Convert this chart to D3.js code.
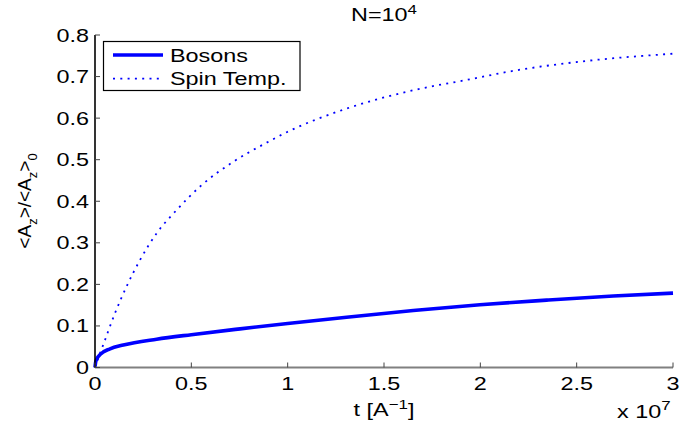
<!DOCTYPE html>
<html><head><meta charset="utf-8">
<script src="https://cdn.jsdelivr.net/npm/d3@7"></script>
<style>body{margin:0;background:#fff}svg{display:block}text{font-family:"Liberation Sans",Arial,sans-serif;fill:#000}</style>
</head><body>
<script>
// t in units of 1e7 A^-1
const bosonsT = [0,0.003,0.01,0.026,0.078,0.147,0.32,0.5,0.753,1.0,1.306,1.652,1.998,2.344,2.69,3.0];
const bosonsV = [0,0.012,0.021,0.031,0.045,0.054,0.068,0.079,0.093,0.106,0.121,0.137,0.151,0.162,0.172,0.179];
const spinT = [0,0.02,0.043,0.104,0.164,0.234,0.32,0.424,0.554,0.718,0.891,0.995,1.306,1.652,1.964,2.137,2.5,3.0];
const spinV = [0,0.027,0.055,0.131,0.195,0.259,0.323,0.379,0.439,0.495,0.541,0.566,0.623,0.667,0.695,0.711,0.735,0.755];
const xTicks = [0,0.5,1,1.5,2,2.5,3];
const xTickLabels = ["0","0.5","1","1.5","2","2.5","3"];
const yTicks = [0,0.1,0.2,0.3,0.4,0.5,0.6,0.7,0.8];
const yTickLabels = ["0","0.1","0.2","0.3","0.4","0.5","0.6","0.7","0.8"];
const seriesNames = ["Bosons","Spin Temp."];

const W=680,H=426, FS=18, SX=1.3;
const svg=d3.select("body").append("svg").attr("width",W).attr("height",H);
const x=d3.scaleLinear().domain([0,3]).range([95,673]);
const y=d3.scaleLinear().domain([0,0.8]).range([367.5,35]);

function txt(g,px,py,anchor,size){
  return g.append("text").attr("transform",`translate(${px},${py}) scale(${SX},1)`)
    .attr("text-anchor",anchor).attr("font-size",size||FS);
}

// curves
const line=d3.line().x(d=>x(d[0])).y(d=>y(d[1])).curve(d3.curveMonotoneX);
svg.append("path").datum(spinT.map((t,i)=>[t,spinV[i]]))
  .attr("d",line).attr("fill","none").attr("stroke","#0000ff").attr("stroke-width",1.8)
  .attr("stroke-dasharray","2,5.3");
svg.append("path").datum(bosonsT.map((t,i)=>[t,bosonsV[i]]))
  .attr("d",line).attr("fill","none").attr("stroke","#0000ff").attr("stroke-width",3.6);

// axes
svg.append("line").attr("x1",x(0)).attr("x2",x(3)).attr("y1",y(0)).attr("y2",y(0))
  .attr("stroke","#808080").attr("stroke-width",2);
svg.append("line").attr("x1",x(0)).attr("x2",x(0)).attr("y1",y(0)).attr("y2",y(0.8))
  .attr("stroke","#000").attr("stroke-width",1.6);
xTicks.forEach((t,i)=>{
  svg.append("line").attr("x1",x(t)).attr("x2",x(t)).attr("y1",y(0)).attr("y2",y(0)-5)
    .attr("stroke","#444").attr("stroke-width",1);
  txt(svg,x(t),389.5,"middle").text(xTickLabels[i]);
});
yTicks.forEach((v,i)=>{
  svg.append("line").attr("x1",x(0)).attr("x2",x(0)+5).attr("y1",y(v)).attr("y2",y(v))
    .attr("stroke","#444").attr("stroke-width",1);
  txt(svg,89,y(v)+6.5,"end").text(yTickLabels[i]);
});

// title
const tt=txt(svg,384,20.5,"middle");
tt.append("tspan").text("N=10");
tt.append("tspan").attr("font-size",13).attr("dy",-7).text("4");

// x label
const xl=txt(svg,384,415.5,"middle");
xl.append("tspan").text("t [A");
xl.append("tspan").attr("font-size",13).attr("dy",-7).text("\u22121");
xl.append("tspan").attr("dy",7).text("]");

// exponent
const ex=txt(svg,617,418,"start");
ex.append("tspan").text("x 10");
ex.append("tspan").attr("font-size",13).attr("dy",-8).text("7");

// y label
const yl=svg.append("text").attr("transform",`translate(30.5,201) rotate(-90)`)
  .attr("text-anchor","middle").attr("font-size",19);
yl.append("tspan").text("<A");
yl.append("tspan").attr("font-size",13).attr("dy",6).text("z");
yl.append("tspan").attr("dy",-6).text(">/<A");
yl.append("tspan").attr("font-size",13).attr("dy",6).text("z");
yl.append("tspan").attr("dy",-6).text(">");
yl.append("tspan").attr("font-size",13).attr("dy",6).text("0");

// legend
const lg=svg.append("g");
lg.append("rect").attr("x",103.5).attr("y",41.5).attr("width",196.5).attr("height",49)
  .attr("fill","#fff").attr("stroke","#000").attr("stroke-width",1.2);
lg.append("line").attr("x1",113).attr("x2",163).attr("y1",55).attr("y2",55)
  .attr("stroke","#0000ff").attr("stroke-width",3.6);
lg.append("line").attr("x1",113).attr("x2",163).attr("y1",78.7).attr("y2",78.7)
  .attr("stroke","#0000ff").attr("stroke-width",1.8).attr("stroke-dasharray","2,5.3");
txt(lg,170,62,"start").text(seriesNames[0]);
txt(lg,170,85,"start").text(seriesNames[1]);
</script>
</body></html>
